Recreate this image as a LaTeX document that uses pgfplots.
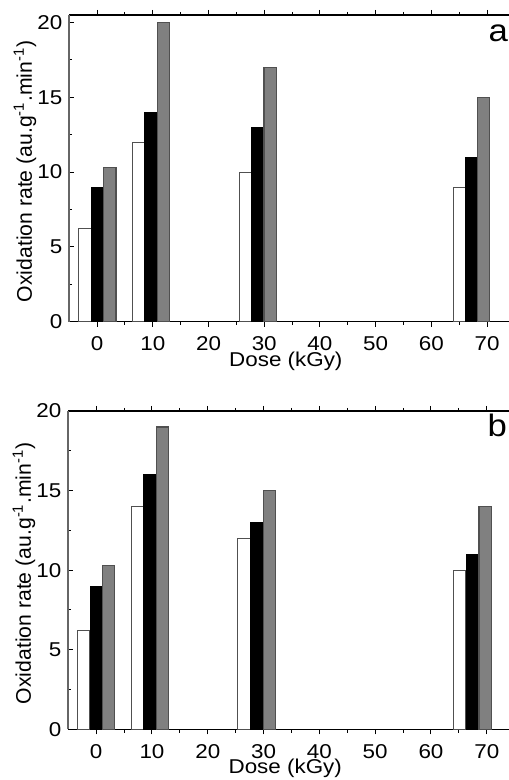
\documentclass[border=0pt]{standalone}
\usepackage{fontspec}
\setmainfont{Liberation Sans}[FakeStretch=1.12]
\newfontfamily\ylfont{Liberation Sans}
\usepackage{pgfplots}
\pgfplotsset{compat=1.18}
\definecolor{bargrey}{HTML}{808080}
\definecolor{edgegrey}{HTML}{505050}
\pgfplotsset{panel/.style={
  scale only axis, anchor=south west,
  xmin=-5, xmax=75, ymin=0,
  xtick={0,10,...,70}, ytick={0,5,...,20},
  minor x tick num=1, minor y tick num=1,
  tick align=inside, major tick length=2.5pt, minor tick length=1.6pt,
  separate axis lines,
  x axis line style={black, line width=0.6pt},
  y axis line style={black!60, line width=0.9pt},
  tick style={black, line width=0.5pt},
  /pgf/number format/assume math mode=true,
  tick label style={font=\fontsize{10}{12}\selectfont},
  xticklabel style={anchor=base, inner sep=0pt, yshift=-12pt},
  yticklabel style={anchor=east, inner sep=0pt, xshift=-3.3pt},
  xlabel={Dose (kGy)},
  ylabel={Oxidation rate (au.g\textsuperscript{-1}.min\textsuperscript{-1})},
  xlabel style={at={(axis description cs:0.486,0)}, anchor=base, yshift=-22.3pt, inner sep=0pt, font=\fontsize{10}{12}\selectfont},
  ylabel style={at={(axis description cs:0,0.49)}, anchor=center, yshift=22.15pt, inner sep=0pt, font=\ylfont\fontsize{10.6}{12}\selectfont},
  ybar, bar width=2.2,
},
wbar/.style={fill=white, draw=edgegrey, line width=0.5pt, bar shift=0pt},
kbar/.style={fill=black, draw=black, line width=0.5pt, bar shift=0pt},
gbar/.style={fill=bargrey, draw=edgegrey, line width=0.6pt, bar shift=0pt},
}
\begin{document}
\begin{tikzpicture}
\useasboundingbox (0,0) rectangle (254pt,390pt);
% top panel (a)
\begin{axis}[panel, at={(34.65pt,229.15pt)}, width=222.8pt, height=153.35pt, ymax=20.5]
\addplot[wbar] coordinates {(-2.2,6.2) (7.4,12) (26.6,10) (65.0,9)};
\addplot[kbar] coordinates {(0,9) (9.6,14) (28.8,13) (67.2,11)};
\addplot[gbar] coordinates {(2.3,10.3) (11.95,20) (31.05,17) (69.4,15)};
\end{axis}
% bottom panel (b)
\begin{axis}[panel, at={(34.15pt,25.35pt)}, width=223.2pt, height=159.15pt, ymax=20]
\addplot[wbar] coordinates {(-2.3,6.2) (7.35,14) (26.5,12) (65.1,10)};
\addplot[kbar] coordinates {(0,9) (9.55,16) (28.75,13) (67.4,11)};
\addplot[gbar] coordinates {(2.25,10.3) (11.9,19) (31.05,15) (69.7,14)};
\end{axis}
\node[anchor=base west, inner sep=0pt, font=\fontsize{15.5}{16}\selectfont] at (244.15pt,369.15pt) {a};
\node[anchor=base west, inner sep=0pt, font=\fontsize{15.5}{16}\selectfont] at (243.6pt,171.65pt) {b};
\end{tikzpicture}
\end{document}
